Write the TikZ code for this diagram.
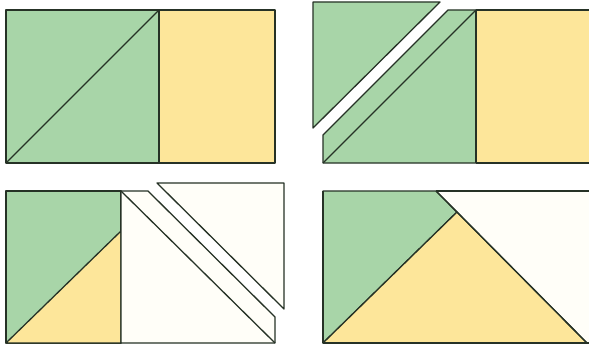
\documentclass[tikz,border=0pt]{standalone}
\definecolor{qgreen}{HTML}{A8D5A8}
\definecolor{qyellow}{HTML}{FDE69A}
\definecolor{qwhite}{HTML}{FFFEF8}
\definecolor{qline}{HTML}{263226}
\tikzset{
  piece/.style={draw=qline, line width=1.3pt, line join=round},
  edge/.style={draw=qline, line width=1.3pt}
}
\begin{document}
\begin{tikzpicture}[x=1pt,y=-1pt]
\useasboundingbox (0,0) rectangle (589,345);
\fill[white] (0,0) rectangle (589,345);
% Panel 1
\filldraw[piece, fill=qgreen] (6,10) rectangle (159,163);
\filldraw[piece, fill=qyellow] (159,10) rectangle (275,163);
\draw[edge] (6,163) -- (159,10);
% Panel 2
\filldraw[piece, fill=qgreen] (313,2) -- (440,2) -- (313,128) -- cycle;
\filldraw[piece, fill=qgreen] (323,163) -- (476,163) -- (476,10) -- (448,10) -- (323,135) -- cycle;
\draw[edge] (323,163) -- (476,10);
\fill[qyellow] (476,10) rectangle (589,163);
\draw[edge] (476,10) -- (589,10);
\draw[edge] (476,163) -- (589,163);
\draw[edge] (476,10) -- (476,163);
% Panel 3
\filldraw[piece, fill=qgreen] (6,191) rectangle (121,343);
\filldraw[piece, fill=qyellow] (6,343) -- (121,343) -- (121,231) -- cycle;
\filldraw[piece, fill=qwhite] (121,191) -- (148,191) -- (275,317) -- (275,343) -- (121,343) -- cycle;
\draw[edge] (121,191) -- (275,343);
\filldraw[piece, fill=qwhite] (157,183) -- (284,183) -- (284,309) -- cycle;
% Panel 4
\fill[qwhite] (323,191) rectangle (589,343);
\filldraw[piece, fill=qgreen] (323,191) -- (436,191) -- (457,212) -- (323,343) -- cycle;
\filldraw[piece, fill=qyellow] (323,343) -- (457,212) -- (587,343) -- cycle;
\draw[edge] (436,191) -- (587,343);
\draw[edge] (436,191) -- (589,191);
\draw[edge] (323,343) -- (589,343);
\draw[edge] (323,191) -- (323,343);
\end{tikzpicture}
\end{document}
